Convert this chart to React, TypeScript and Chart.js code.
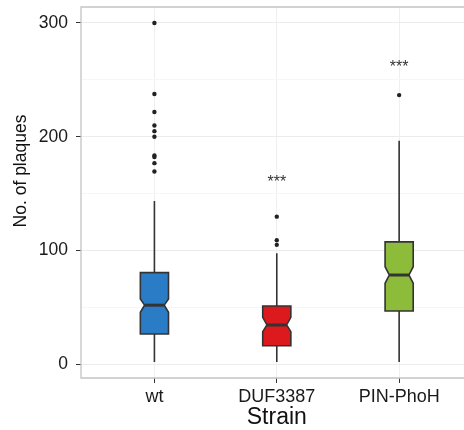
import React, { useEffect, useRef } from 'react';
import { Chart, registerables } from 'chart.js';

Chart.register(...registerables);

// ---- data ----
const categories = ['wt', 'DUF3387', 'PIN-PhoH'];
const boxColors = ['#2a7cc7', '#dc1a1e', '#8dbb3a'];
const whiskerLow = [2, 2, 2];
const q1 = [26.6, 16.4, 46.9];
const median = [52, 34.6, 78.5];
const q3 = [80.6, 51.3, 107.6];
const whiskerHigh = [143.6, 97.6, 196.4];
const notchLow = [45.7, 28.7, 71.2];
const notchHigh = [57.4, 41.3, 85.8];
const outliersWt = [300, 237.6, 221.8, 209.9, 204.9, 200, 183.5, 182.2, 176.8, 169.4];
const outliersDuf = [129.8, 109, 105];
const outliersPin = [236.6];
const significance = ['', '***', '***'];
const significanceY = [0, 164.5, 265.3];
const yMajorTicks = [0, 100, 200, 300];
const yMinorTicks = [50, 150, 250];
const xTitle = 'Strain';
const yTitle = 'No. of plaques';

// ---- style constants ----
const FONT = '"Liberation Sans", Arial, Helvetica, sans-serif';
const BOX_WIDTH = 0.23;
const NOTCH_RATIO = 0.7;
const LINE = '#333333';

const boxPlugin = {
  id: 'notchedBoxes',
  beforeDatasetsDraw(chart: any) {
    const { ctx, chartArea } = chart;
    const xs = chart.scales.x;
    const ys = chart.scales.y;
    ctx.save();
    // panel border (left, top, bottom; right side lies beyond the picture)
    ctx.strokeStyle = '#c4c4c4';
    ctx.lineWidth = 1.3;
    ctx.beginPath();
    ctx.moveTo(chart.width + 10, chartArea.top);
    ctx.lineTo(chartArea.left, chartArea.top);
    ctx.lineTo(chartArea.left, chartArea.bottom);
    ctx.lineTo(chart.width + 10, chartArea.bottom);
    ctx.stroke();

    categories.forEach((_, i) => {
      const c = i + 1;
      const xc = xs.getPixelForValue(c);
      const xl = xs.getPixelForValue(c - BOX_WIDTH / 2);
      const xr = xs.getPixelForValue(c + BOX_WIDTH / 2);
      const inset = ((xr - xl) * (1 - NOTCH_RATIO)) / 2;
      const yQ1 = ys.getPixelForValue(q1[i]);
      const yQ3 = ys.getPixelForValue(q3[i]);
      const yMed = ys.getPixelForValue(median[i]);
      const yNL = ys.getPixelForValue(notchLow[i]);
      const yNH = ys.getPixelForValue(notchHigh[i]);
      const yWL = ys.getPixelForValue(whiskerLow[i]);
      const yWH = ys.getPixelForValue(whiskerHigh[i]);

      ctx.strokeStyle = LINE;
      ctx.lineWidth = 1.6;
      ctx.beginPath();
      ctx.moveTo(xc, yWH);
      ctx.lineTo(xc, yQ3);
      ctx.moveTo(xc, yQ1);
      ctx.lineTo(xc, yWL);
      ctx.stroke();

      ctx.beginPath();
      ctx.moveTo(xl, yQ3);
      ctx.lineTo(xr, yQ3);
      ctx.lineTo(xr, yNH);
      ctx.lineTo(xr - inset, yMed);
      ctx.lineTo(xr, yNL);
      ctx.lineTo(xr, yQ1);
      ctx.lineTo(xl, yQ1);
      ctx.lineTo(xl, yNL);
      ctx.lineTo(xl + inset, yMed);
      ctx.lineTo(xl, yNH);
      ctx.closePath();
      ctx.fillStyle = boxColors[i];
      ctx.fill();
      ctx.lineJoin = 'miter';
      ctx.lineWidth = 1.6;
      ctx.stroke();

      ctx.beginPath();
      ctx.lineWidth = 3;
      ctx.moveTo(xl + inset, yMed);
      ctx.lineTo(xr - inset, yMed);
      ctx.stroke();
    });
    ctx.restore();
  },
  afterDatasetsDraw(chart: any) {
    const { ctx } = chart;
    const xs = chart.scales.x;
    const ys = chart.scales.y;
    ctx.save();
    ctx.fillStyle = '#333';
    ctx.font = `16px ${FONT}`;
    ctx.textAlign = 'center';
    ctx.textBaseline = 'alphabetic';
    significance.forEach((s, i) => {
      if (!s) return;
      ctx.fillText(s, xs.getPixelForValue(i + 1), ys.getPixelForValue(significanceY[i]) + 0.6 * 16);
    });
    ctx.restore();
  },
  afterDraw(chart: any) {
    const { ctx, chartArea } = chart;
    const xs = chart.scales.x;
    ctx.save();
    ctx.fillStyle = '#111';
    ctx.textAlign = 'center';
    ctx.textBaseline = 'middle';
    ctx.font = `23px ${FONT}`;
    ctx.fillText(xTitle, xs.getPixelForValue(2), chartArea.bottom + 40);
    ctx.translate(21, chartArea.top + 164);
    ctx.rotate(-Math.PI / 2);
    ctx.font = `17.5px ${FONT}`;
    ctx.fillText(yTitle, 0, 0);
    ctx.restore();
  },
};

export default function App() {
  const ref = useRef<HTMLCanvasElement | null>(null);

  useEffect(() => {
    if (!ref.current) return;
    const toPts = (arr: number[], x: number) => arr.map((y) => ({ x, y }));
    const chart = new Chart(ref.current, {
      type: 'scatter',
      data: {
        datasets: [
          {
            label: 'outliers',
            data: [...toPts(outliersWt, 1), ...toPts(outliersDuf, 2), ...toPts(outliersPin, 3)],
            pointRadius: 2.2,
            pointBackgroundColor: '#222',
            pointBorderWidth: 0,
            borderColor: '#222',
          },
        ],
      },
      options: {
        animation: false,
        responsive: true,
        maintainAspectRatio: false,
        layout: { autoPadding: false, padding: { top: 7, left: 0, right: 0, bottom: 0 } },
        plugins: { legend: { display: false }, tooltip: { enabled: false } },
        scales: {
          x: {
            type: 'linear',
            min: 0.4,
            max: 3.53,
            afterBuildTicks: (s: any) => {
              s.ticks = categories.map((_, i) => ({ value: i + 1 }));
            },
            ticks: {
              autoSkip: false,
              maxRotation: 0,
              padding: 3,
              color: '#1a1a1a',
              font: { family: FONT, size: 18 },
              callback: (v: any) => categories[Number(v) - 1] ?? '',
            },
            grid: { color: '#efefef', tickColor: LINE, tickLength: 5, lineWidth: 1 },
            border: { display: false },
            afterFit: (s: any) => {
              s.height = 52;
              s.paddingLeft = 0;
              s.paddingRight = 0;
            },
          },
          y: {
            min: -12,
            max: 314,
            afterBuildTicks: (s: any) => {
              s.ticks = [...yMajorTicks, ...yMinorTicks].sort((a, b) => a - b).map((v) => ({ value: v }));
            },
            ticks: {
              padding: 8,
              color: '#1a1a1a',
              font: { family: FONT, size: 17.5 },
              callback: (v: any) => (yMajorTicks.includes(Number(v)) ? String(v) : ''),
            },
            grid: {
              color: (c: any) => (yMajorTicks.includes(c.tick?.value) ? '#ececec' : '#f6f6f6'),
              tickColor: (c: any) => (yMajorTicks.includes(c.tick?.value) ? LINE : 'rgba(0,0,0,0)'),
              tickLength: 5,
              lineWidth: 1,
            },
            border: { display: false },
            afterFit: (s: any) => {
              s.width = 81;
              s.paddingTop = 0;
              s.paddingBottom = 0;
            },
          },
        },
      },
      plugins: [boxPlugin],
    });
    return () => chart.destroy();
  }, []);

  return (
    <div style={{ position: 'fixed', left: 0, top: 0, width: 464, height: 430, background: '#fff' }}>
      <canvas ref={ref} />
    </div>
  );
}
